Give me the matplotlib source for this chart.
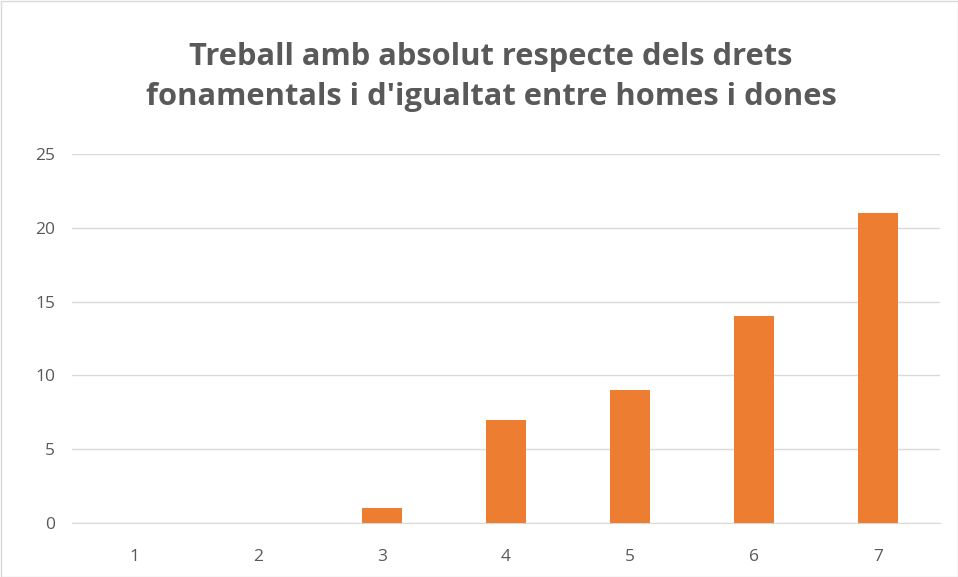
import matplotlib
matplotlib.use("Agg")
import matplotlib.pyplot as plt

categories = ["1", "2", "3", "4", "5", "6", "7"]
values = [0, 0, 1, 7, 9, 14, 21]
yticks = [0, 5, 10, 15, 20, 25]
title = "Treball amb absolut respecte dels drets\nfonamentals i d'igualtat entre homes i dones"

plt.rcParams['font.family'] = ['Open Sans', 'DejaVu Sans']

fig = plt.figure(figsize=(9.58, 5.77), dpi=100)
fig.patch.set_facecolor('white')
ax = fig.add_axes([72/958, 1-523/577, 868/958, (523-154)/577])

x = list(range(len(categories)))
ax.bar(x, values, width=0.315, color='#ED7D31', zorder=3)
ax.set_xlim(-0.5, len(categories)-0.5)
ax.set_ylim(0, 25)
ax.set_yticks(yticks)
ax.set_xticks(x)
ax.set_xticklabels(categories)
ax.yaxis.grid(True, color='#D9D9D9', linewidth=1)
ax.set_axisbelow(True)
for s in ['top', 'right', 'left']:
    ax.spines[s].set_visible(False)
ax.spines['bottom'].set_color('#D9D9D9')
ax.tick_params(axis='both', length=0, labelsize=12.5, colors='#595959')
ax.tick_params(axis='x', pad=19)
ax.tick_params(axis='y', pad=12)

fig.text(491/958, 1-77/577, title, ha='center', va='center', fontsize=22.2,
         fontweight='bold', color='#595959', linespacing=1.43)

border = plt.Rectangle((0.5/958, 0.5/577), 1-1/958, 1-1/577, transform=fig.transFigure,
                       fill=False, edgecolor='#D9D9D9', linewidth=1)
fig.patches.append(border)

fig.savefig('out.png', dpi=100)
